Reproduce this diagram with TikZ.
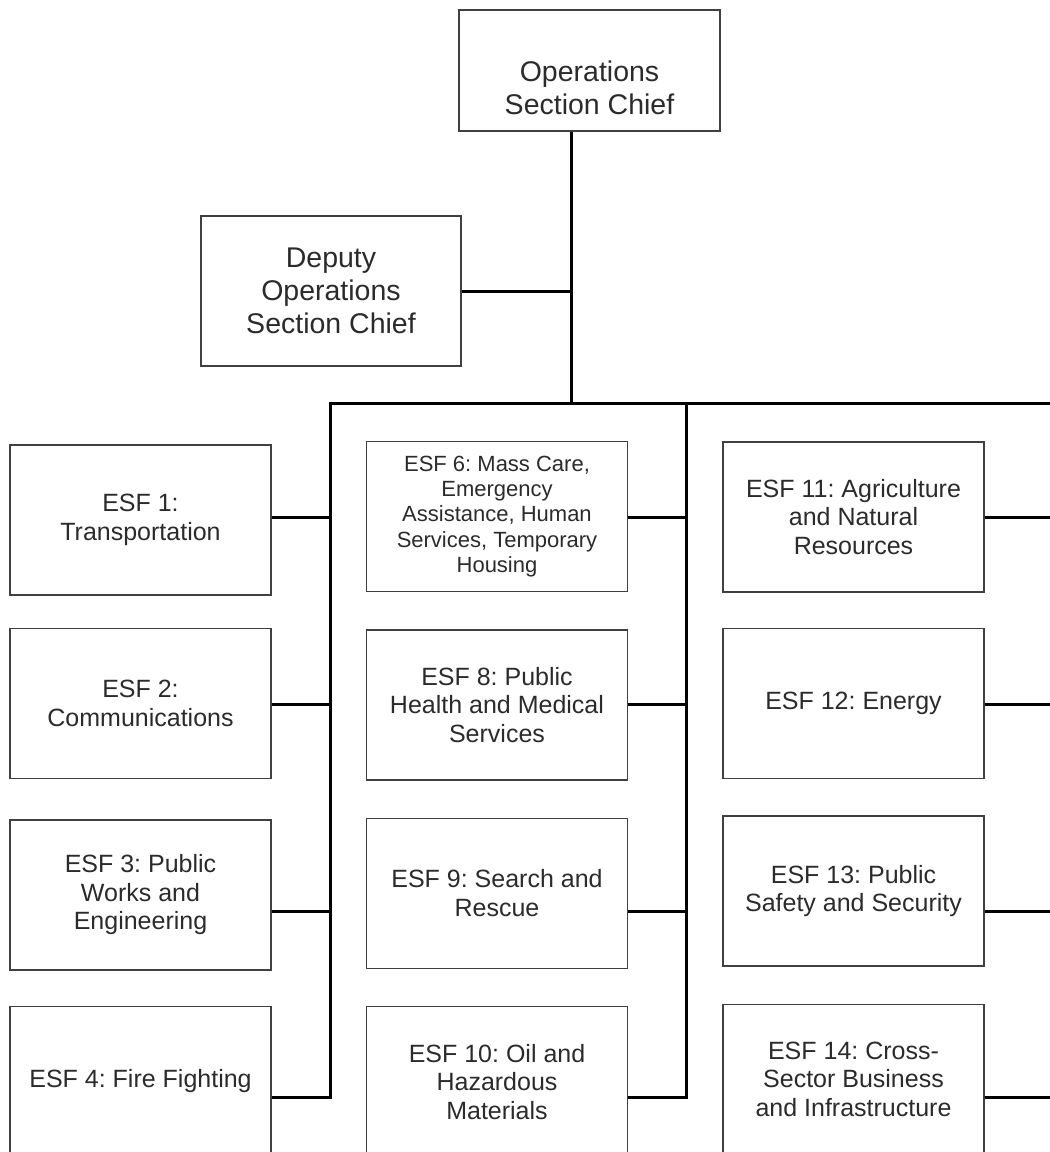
\documentclass[tikz,border=0pt]{standalone}
\usepackage{fontspec}
\setmainfont{Liberation Sans}
\usetikzlibrary{positioning}
\definecolor{boxline}{HTML}{404040}
\definecolor{txt}{HTML}{2B2B2B}
\newcommand{\headfont}{\fontsize{28.5}{33}\selectfont}
\newcommand{\esffont}{\fontsize{25}{28.5}\selectfont}
\newcommand{\smallfont}{\fontsize{22}{25.3}\selectfont}
\frenchspacing

\begin{document}
\begin{tikzpicture}[x=1pt, y=-1pt, thick,
        box/.style = {draw=boxline, line width=1.4pt, rectangle, align=center, text=txt},
        head/.style = {box, minimum width=261pt, font=\headfont},
        esf/.style = {box, minimum width=261pt, minimum height=150pt, font=\esffont},
        link/.style = {line width=3pt}]
        \useasboundingbox (0,0) rectangle (1050,1152);
        \clip (0,0) rectangle (1050,1152);

        \node[head, minimum height=121pt, text height=88pt, text depth=0pt] (chief) at (589.5,70.5) {Operations\\Section Chief};
        \node[head, minimum width=260pt, minimum height=150pt] (deputy) at (331,291) {Deputy\\Operations\\Section Chief};

        % left column
        \node[esf] (esf1) at (140.5,520) {ESF 1:\\Transportation};
        \node[esf] (esf2) [below=32pt of esf1] {ESF 2:\\Communications};
        \node[esf] (esf3) [below=40pt of esf2] {ESF 3: Public\\Works and\\Engineering};
        \node[esf] (esf4) [below=35pt of esf3] {ESF 4: Fire Fighting};

        % middle column
        \node[esf, font=\smallfont] (esf6) at (497,516.5) {ESF 6: Mass Care,\\Emergency\\Assistance, Human\\Services, Temporary\\Housing};
        \node[esf] (esf8) [below=37pt of esf6] {ESF 8: Public\\Health and Medical\\Services};
        \node[esf] (esf9) [below=37pt of esf8] {ESF 9: Search and\\Rescue};
        \node[esf] (esf10) [below=37pt of esf9] {ESF 10: Oil and\\Hazardous\\Materials};

        % right column
        \node[esf] (esf11) at (853.5,517) {ESF 11: Agriculture\\and Natural\\Resources};
        \node[esf] (esf12) [below=35pt of esf11] {ESF 12: Energy};
        \node[esf] (esf13) [below=36pt of esf12] {ESF 13: Public\\Safety and Security};
        \node[esf] (esf14) [below=37pt of esf13] {ESF 14: Cross-\\Sector Business\\and Infrastructure};

        \coordinate (bus) at (571,403);
        \coordinate (lbus) at (330,403);
        \coordinate (mbus) at (686,403);
        \coordinate (redge) at (1058,403);
        \coordinate (row1) at (0,517);
        \coordinate (row2) at (0,704);
        \coordinate (row3) at (0,911);
        \coordinate (row4) at (0,1097);

        \draw[link] (chief.south -| bus) -- (bus);
        \draw[link] (deputy.east) -- (deputy.east -| bus);
        \draw[link] (esf4.east |- row4) -- (lbus |- row4) -- (lbus) -- (redge);
        \draw[link] (esf10.east |- row4) -- (mbus |- row4) -- (mbus);
        \draw[link] (esf14.east |- row4) -- (redge |- row4);

        \foreach \n/\r in {1/1, 2/2, 3/3}
            \draw[link] (esf\n.east |- row\r) -- (lbus |- row\r);
        \foreach \n/\r in {6/1, 8/2, 9/3}
            \draw[link] (esf\n.east |- row\r) -- (mbus |- row\r);
        \foreach \n/\r in {11/1, 12/2, 13/3}
            \draw[link] (esf\n.east |- row\r) -- (redge |- row\r);

    \end{tikzpicture}
\end{document}
